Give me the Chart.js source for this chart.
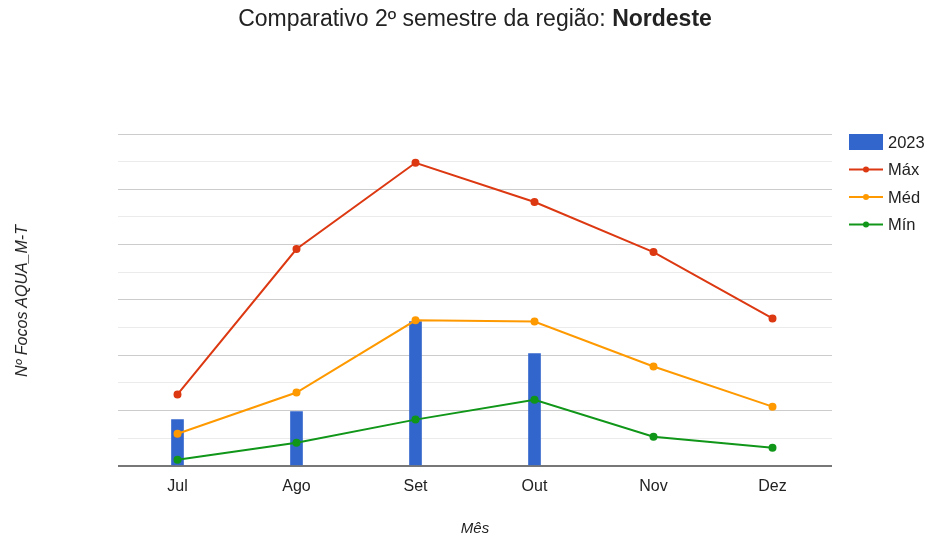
<!DOCTYPE html>
<html>
<head>
<meta charset="utf-8">
<script src="https://cdn.jsdelivr.net/npm/chart.js@4"></script>
<style>
  html, body { margin: 0; padding: 0; background: #fff; }
  #wrap { position: relative; width: 927px; height: 537px; font-family: Arial, "Liberation Sans", sans-serif; color: #222; }
  #chart { position: absolute; left: 0; top: 0; }
  .title { position: absolute; left: 0; width: 950px; top: 5px; text-align: center; font-size: 23px; line-height: 26px; }
  .xtitle { position: absolute; left: 0; width: 950px; top: 519px; text-align: center; font-size: 15px; font-style: italic; }
  .ytitle { position: absolute; left: 22px; top: 301px; font-size: 16px; font-style: italic; white-space: nowrap;
            transform: translate(-50%, -50%) rotate(-90deg); }
</style>
</head>
<body>
<div id="wrap">
  <canvas id="chart" width="927" height="537"></canvas>
  <div class="title">Comparativo 2º semestre da região: <b>Nordeste</b></div>
  <div class="ytitle">Nº Focos AQUA_M-T</div>
  <div class="xtitle">Mês</div>
</div>
<script>
// months of the second semester
var months = ["Jul", "Ago", "Set", "Out", "Nov", "Dez"];

// fire counts (no y labels shown, so scale is estimated)
var focos2023 = [835, 980, 2610, 2030, null, null];
var focosMax = [1290, 3920, 5480, 4770, 3865, 2665];
var focosMed = [580, 1325, 2630, 2610, 1795, 1070];
var focosMin = [110, 415, 835, 1195, 525, 325];

var yMax = 6000;
var yStep = 500;

var COLORS = { bar: "#3366cc", max: "#dc3912", med: "#ff9900", min: "#109618" };

function lineSet(label, data, color) {
  return {
    type: "line", label: label, data: data,
    borderColor: color, backgroundColor: color,
    borderWidth: 2, pointRadius: 3, pointHoverRadius: 3,
    tension: 0, order: 1
  };
}

// legend drawn on the right like the google chart one
var sideLegend = {
  id: "sideLegend",
  afterDraw: function (chart) {
    var ctx = chart.ctx;
    var x0 = 849, y0 = 142, gap = 27.5;
    ctx.save();
    ctx.font = "16.5px Arial, 'Liberation Sans', sans-serif";
    ctx.textBaseline = "middle";
    chart.data.datasets.forEach(function (ds, i) {
      var y = y0 + i * gap;
      if (ds.type === "bar") {
        ctx.fillStyle = ds.backgroundColor;
        ctx.fillRect(x0, y - 8, 34, 16);
      } else {
        ctx.strokeStyle = ds.borderColor;
        ctx.lineWidth = 2;
        ctx.beginPath();
        ctx.moveTo(x0, y); ctx.lineTo(x0 + 34, y);
        ctx.stroke();
        ctx.fillStyle = ds.borderColor;
        ctx.beginPath();
        ctx.arc(x0 + 17, y, 3, 0, Math.PI * 2);
        ctx.fill();
      }
      ctx.fillStyle = "#222";
      ctx.fillText(ds.label, x0 + 39, y + 1);
    });
    ctx.restore();
  }
};

new Chart(document.getElementById("chart"), {
  type: "bar",
  data: {
    labels: months,
    datasets: [
      { type: "bar", label: "2023", data: focos2023, backgroundColor: COLORS.bar,
        barThickness: 12, order: 2 },
      lineSet("Máx", focosMax, COLORS.max),
      lineSet("Méd", focosMed, COLORS.med),
      lineSet("Mín", focosMin, COLORS.min)
    ]
  },
  plugins: [sideLegend],
  options: {
    responsive: false,
    animation: false,
    layout: { padding: { left: 118, right: 95, top: 134, bottom: 30 } },
    plugins: { legend: { display: false }, tooltip: { enabled: false } },
    scales: {
      x: {
        grid: { display: false, drawTicks: false },
        border: { display: false },
        ticks: { color: "#222", padding: 11,
                 font: { size: 16, family: "'Liberation Sans Narrow', 'Arial Narrow', Arial, sans-serif" } }
      },
      y: {
        min: 0, max: yMax,
        border: { display: false },
        ticks: { display: false, stepSize: yStep },
        grid: {
          drawTicks: false,
          color: function (c) {
            var v = c.tick.value;
            if (v === 0) return "#777";
            return v % 1000 === 0 ? "#cccccc" : "#ebebeb";
          },
          lineWidth: function (c) { return c.tick.value === 0 ? 2 : 1; }
        }
      }
    }
  }
});
</script>
</body>
</html>
